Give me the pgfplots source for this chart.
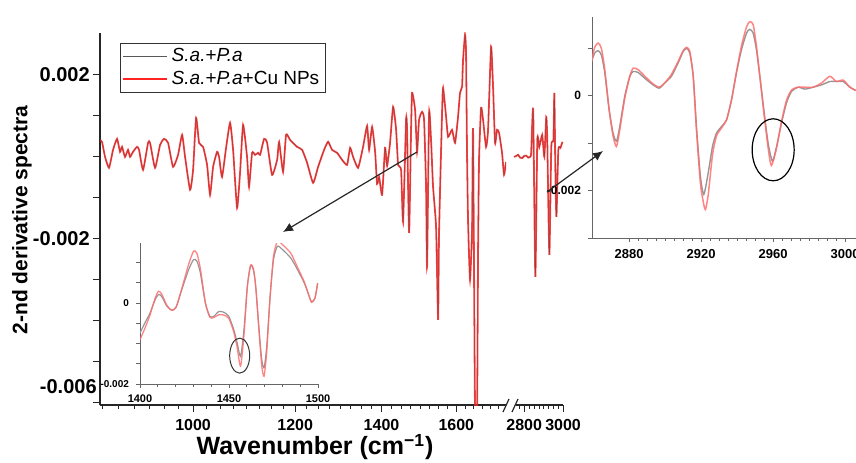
\documentclass[border=0pt]{standalone}
\usepackage{pgfplots}
\pgfplotsset{compat=1.18}
\usepackage{pgfplotstable}
\usepackage{fontspec}
\setmainfont{Liberation Sans}
\usetikzlibrary{arrows.meta}

\definecolor{specred}{RGB}{255,35,35}
\definecolor{specblack}{RGB}{50,50,50}
\definecolor{insetred}{RGB}{255,110,110}
\definecolor{insetgray}{RGB}{150,150,150}

\pgfplotstableread{
x y
847.0 0.40e-3
850.0 0.366e-3
854.6 0.0
860.7 -0.268e-3
866.9 0.171e-3
873.1 0.439e-3
877.8 0.122e-3
880.9 0.244e-3
885.6 0.0
890.4 0.171e-3
893.6 0.0
898.4 0.122e-3
904.8 0.244e-3
908.1 0.171e-3
914.6 -0.317e-3
922.8 0.341e-3
926.1 0.341e-3
934.4 -0.268e-3
942.8 0.293e-3
949.5 0.439e-3
956.4 0.341e-3
964.9 -0.244e-3
973.6 0.049e-3
980.6 0.537e-3
985.8 0.0
994.7 -0.805e-3
1000.0 -0.317e-3
1005.4 0.951e-3
1010.8 0.341e-3
1018.0 0.244e-3
1025.3 -0.195e-3
1030.8 -0.927e-3
1036.4 -0.244e-3
1043.8 0.122e-3
1047.5 0.0
1053.1 -0.488e-3
1060.7 0.220e-3
1068.3 0.829e-3
1074.1 0.171e-3
1081.7 -1.244e-3
1087.5 -0.390e-3
1093.4 0.780e-3
1101.2 0.0
1105.1 -0.732e-3
1111.1 0.098e-3
1117.1 0.049e-3
1123.1 0.098e-3
1127.1 0.049e-3
1135.2 0.439e-3
1141.3 0.341e-3
1151.5 -0.439e-3
1161.9 -0.073e-3
1166.0 0.366e-3
1174.3 -0.366e-3
1180.6 0.537e-3
1189.1 0.415e-3
1204.1 0.244e-3
1214.9 0.171e-3
1225.8 -0.146e-3
1239.0 -0.634e-3
1250.1 -0.244e-3
1263.5 0.171e-3
1272.6 0.366e-3
1281.7 0.171e-3
1293.2 0.098e-3
1304.8 -0.073e-3
1316.5 -0.195e-3
1323.6 0.220e-3
1330.7 0.0
1342.6 -0.268e-3
1354.6 0.244e-3
1364.4 0.756e-3
1369.3 0.171e-3
1376.6 0.732e-3
1384.0 0.122e-3
1388.9 -0.659e-3
1393.9 -0.488e-3
1401.4 -0.927e-3
1408.9 0.220e-3
1414.0 -0.220e-3
1421.5 0.341e-3
1429.2 1.220e-3
1436.8 0.683e-3
1442.0 -0.195e-3
1449.7 -0.317e-3
1454.9 -1.585e-3
1462.7 0.902e-3
1465.3 0.659e-3
1470.6 -1.854e-3
1475.8 0.659e-3
1478.5 1.561e-3
1486.4 1.146e-3
1491.7 0.122e-3
1497.0 0.902e-3
1505.1 1.098e-3
1510.5 0.902e-3
1515.9 -0.732e-3
1518.6 -2.683e-3
1524.0 1.073e-3
1529.4 0.415e-3
1534.9 -0.732e-3
1543.2 -1.707e-3
1548.7 -3.976e-3
1551.4 -1.854e-3
1559.8 1.073e-3
1562.6 1.683e-3
1571.0 0.976e-3
1576.6 0.488e-3
1587.8 0.659e-3
1596.4 0.341e-3
1605.0 0.976e-3
1610.7 1.561e-3
1616.5 1.707e-3
1619.3 2.366e-3
1625.1 2.976e-3
1628.0 2.537e-3
1630.9 0.098e-3
1633.8 -1.537e-3
1639.7 -3.000e-3
1645.6 -1.707e-3
1648.5 0.659e-3
1654.4 -6.3e-3
1660.3 -6.3e-3
1663.3 -2.341e-3
1666.2 -0.073e-3
1672.2 1.195e-3
1678.2 0.902e-3
1687.2 0.244e-3
1693.2 0.659e-3
1702.4 2.683e-3
1708.4 1.707e-3
1714.5 0.341e-3
1720.7 0.659e-3
1726.8 0.585e-3
1736.1 0.098e-3
1742.3 -0.439e-3
1748.5 -0.122e-3
}\mainA

\pgfplotstableread{
x y
2750 0.0
2760 0.02e-3
2770 0.05e-3
2780 -0.02e-3
2790 -0.03e-3
2800 0.02e-3
2810 0.03e-3
2820 -0.02e-3
2830 0.0
2835 0.10e-3
2845 1.146e-3
2856 -2.927e-3
2866 0.415e-3
2876 0.244e-3
2891 0.537e-3
2902 0.0
2912 0.976e-3
2917 0.415e-3
2928 -2.390e-3
2938 0.244e-3
2949 0.415e-3
2954 1.561e-3
2959 -0.244e-3
2965 -1.463e-3
2975 0.171e-3
2986 0.220e-3
2997 0.366e-3
}\mainB

\pgfplotstableread{
x y
2859.1 0.72e-3
2860.9 0.90e-3
2862.8 0.95e-3
2864.6 0.86e-3
2866.5 0.48e-3
2868.9 -0.29e-3
2871.1 -0.79e-3
2873.0 -0.96e-3
2874.8 -0.65e-3
2877.6 -0.01e-3
2880.4 0.41e-3
2882.2 0.51e-3
2885.0 0.49e-3
2889.6 0.34e-3
2893.3 0.23e-3
2896.7 0.16e-3
2899.8 0.27e-3
2903.5 0.41e-3
2907.2 0.69e-3
2910.0 0.93e-3
2911.9 1.00e-3
2913.7 0.90e-3
2915.6 0.41e-3
2917.4 -0.65e-3
2919.6 -1.70e-3
2921.5 -2.08e-3
2923.9 -1.63e-3
2926.3 -1.07e-3
2928.5 -0.79e-3
2931.3 -0.65e-3
2934.1 -0.51e-3
2936.9 -0.08e-3
2939.6 0.48e-3
2942.4 0.97e-3
2945.2 1.32e-3
2947.0 1.40e-3
2948.9 1.32e-3
2950.7 0.97e-3
2952.6 0.41e-3
2954.8 -0.29e-3
2957.2 -1.00e-3
2959.6 -1.38e-3
2961.9 -1.07e-3
2964.6 -0.58e-3
2967.4 -0.15e-3
2970.2 0.09e-3
2973.9 0.18e-3
2977.6 0.14e-3
2982.2 0.18e-3
2986.9 0.23e-3
2991.5 0.30e-3
2995.2 0.30e-3
2998.9 0.30e-3
3002.6 0.18e-3
3005.9 0.11e-3
}\insetRgray

\pgfplotstableread{
x y
2859.1 0.72e-3
2860.9 1.02e-3
2862.8 1.11e-3
2864.6 1.00e-3
2866.5 0.55e-3
2868.9 -0.29e-3
2871.1 -0.85e-3
2873.0 -1.07e-3
2874.8 -0.72e-3
2877.6 -0.05e-3
2880.4 0.41e-3
2882.2 0.58e-3
2885.0 0.55e-3
2889.6 0.38e-3
2893.3 0.25e-3
2896.7 0.18e-3
2899.8 0.27e-3
2903.5 0.45e-3
2907.2 0.72e-3
2910.0 0.95e-3
2911.9 1.02e-3
2913.7 0.93e-3
2915.6 0.41e-3
2917.4 -0.72e-3
2919.6 -1.85e-3
2921.5 -2.30e-3
2922.4 -2.40e-3
2923.9 -2.10e-3
2926.3 -1.25e-3
2928.5 -0.85e-3
2931.3 -0.68e-3
2934.1 -0.51e-3
2936.9 -0.08e-3
2939.6 0.50e-3
2942.4 1.05e-3
2945.2 1.45e-3
2947.0 1.56e-3
2948.9 1.50e-3
2950.7 1.05e-3
2952.6 0.41e-3
2954.8 -0.35e-3
2957.2 -1.10e-3
2959.0 -1.47e-3
2961.9 -1.10e-3
2964.6 -0.55e-3
2967.4 -0.10e-3
2970.2 0.12e-3
2973.9 0.18e-3
2977.6 0.18e-3
2982.2 0.18e-3
2986.9 0.27e-3
2991.5 0.41e-3
2995.2 0.30e-3
2998.9 0.33e-3
3002.6 0.18e-3
3005.9 0.11e-3
}\insetRred

\pgfplotstableread{
x y
1400.0 -0.74e-3
1402.8 -0.49e-3
1405.6 -0.25e-3
1408.5 0.08e-3
1410.4 0.21e-3
1412.2 0.16e-3
1415.1 -0.08e-3
1417.9 -0.18e-3
1420.3 -0.10e-3
1423.5 0.33e-3
1427.3 0.82e-3
1430.1 1.07e-3
1432.0 1.03e-3
1433.9 0.74e-3
1436.7 0.00
1439.2 -0.33e-3
1441.4 -0.33e-3
1444.3 -0.21e-3
1447.1 -0.23e-3
1449.9 -0.33e-3
1452.7 -0.66e-3
1454.6 -0.99e-3
1456.5 -1.32e-3
1458.4 -0.66e-3
1460.3 0.41e-3
1462.1 0.91e-3
1463.7 0.82e-3
1465.0 0.41e-3
1466.9 -0.66e-3
1468.4 -1.40e-3
1469.7 -1.60e-3
1471.2 -1.07e-3
1473.1 0.16e-3
1475.0 1.07e-3
1477.2 1.40e-3
1480.0 1.32e-3
1484.7 1.11e-3
1488.5 0.82e-3
1492.3 0.49e-3
1495.1 0.16e-3
1496.4 0.02e-3
1498.3 0.12e-3
1499.8 0.49e-3
}\insetLgray

\pgfplotstableread{
x y
1400.0 -0.91e-3
1402.8 -0.62e-3
1405.6 -0.30e-3
1408.5 0.12e-3
1410.4 0.29e-3
1412.2 0.22e-3
1415.1 -0.06e-3
1417.9 -0.18e-3
1420.3 -0.10e-3
1423.5 0.36e-3
1427.3 0.95e-3
1430.1 1.28e-3
1432.0 1.22e-3
1433.9 0.85e-3
1436.7 0.02e-3
1439.2 -0.35e-3
1441.4 -0.36e-3
1444.3 -0.29e-3
1447.1 -0.30e-3
1449.9 -0.38e-3
1452.7 -0.72e-3
1454.6 -1.10e-3
1456.5 -1.56e-3
1458.4 -0.80e-3
1460.3 0.40e-3
1462.1 0.93e-3
1463.7 0.85e-3
1465.0 0.41e-3
1466.9 -0.72e-3
1468.4 -1.55e-3
1469.7 -1.81e-3
1471.2 -1.20e-3
1473.1 0.16e-3
1475.0 1.15e-3
1477.2 1.52e-3
1480.0 1.44e-3
1484.7 1.23e-3
1488.5 0.88e-3
1492.3 0.52e-3
1495.1 0.16e-3
1496.4 0.02e-3
1498.3 0.12e-3
1499.8 0.49e-3
}\insetLred

\pgfplotsset{
  spec/.style={
    scale only axis, anchor=south west,
    scaled x ticks=false, scaled y ticks=false,
    axis x line=bottom, axis y line=left,
    axis line style={-, black!85, line width=0.6pt},
    tick align=outside,
    tick style={black!85, line width=0.5pt},
  },
}

\begin{document}
\begin{tikzpicture}
\useasboundingbox (0,0) rectangle (428pt,231pt);

% main axis, left part
\begin{axis}[spec,
  at={(50pt,28.5pt)}, width=203pt, height=186pt,
  xmode=log, xmin=847, xmax=1748.5,
  ymin=-0.00605, ymax=0.00302,
  xtick={1000,1200,1400,1600}, xticklabels={1000,1200,1400,1600},
  minor xtick={850,875,900,925,950,975,1025,1050,1075,1100,1125,1150,1175,1225,1250,1275,1300,1325,1350,1375,1425,1450,1475,1500,1525,1550,1575,1625,1650,1675,1700,1725},
  ytick={-0.006,-0.005,-0.004,-0.003,-0.002,-0.001,0,0.001,0.002},
  yticklabels={{},{},{},{},{\mbox{-0.002}},{},{},{},{0.002}},
  extra y ticks={-0.0056}, extra y tick labels={{\mbox{-0.006}}},
  extra y tick style={major tick length=0pt},
  major tick length=3.5pt, minor tick length=2pt,
  x tick label style={font=\bfseries\fontsize{8}{9}\selectfont},
  y tick label style={font=\bfseries\fontsize{10}{12}\selectfont, inner xsep=1.5pt},
  legend style={draw=black!80, line width=0.6pt, at={(0.049,0.973)}, anchor=north west,
    font=\fontsize{9.5}{11}\selectfont, inner xsep=1pt, inner ysep=0.5pt, row sep=-1pt},
  legend cell align=left,
  legend image code/.code={\draw[#1] (0pt,0pt) -- (22pt,0pt);},
]
\addplot[specred, line width=0.9pt, opacity=0.85, smooth, tension=0.3, forget plot] table {\mainA};
\addplot[specblack, line width=0.25pt, opacity=0.5, smooth, tension=0.3, forget plot] table {\mainA};
\addlegendimage{black!65, line width=0.6pt}
\addlegendentry{\textit{S.a.}+\textit{P.a}}
\addlegendimage{specred, line width=0.6pt}
\addlegendentry{\textit{S.a.}+\textit{P.a}+Cu NPs}
\end{axis}

% main axis, right part after the break
\begin{axis}[spec,
  at={(258pt,28.5pt)}, width=23.5pt, height=186pt,
  axis y line=none, ytick=\empty, clip=false,
  xmode=log, xmin=2760, xmax=3000,
  ymin=-0.00605, ymax=0.00302,
  xtick={2800,3000}, xticklabels={2800,3000},
  minor xtick={2775,2825,2850,2875,2900,2925,2950,2975},
  major tick length=3.5pt, minor tick length=2pt,
  x tick label style={font=\bfseries\fontsize{8}{9}\selectfont, inner xsep=0pt},
]
\addplot[specred, line width=0.9pt, opacity=0.85, smooth, tension=0.3] table {\mainB};
\addplot[specblack, line width=0.25pt, opacity=0.5, smooth, tension=0.3] table {\mainB};
\end{axis}

% axis break marks
\draw[black!85, line width=0.6pt] (251.5pt,25pt) -- (254.5pt,31.5pt);
\draw[black!85, line width=0.6pt] (256pt,25pt) -- (259pt,31.5pt);

% right inset
\begin{axis}[spec,
  at={(296pt,112pt)}, width=132pt, height=110.5pt,
  axis line style={-, black!60, line width=0.5pt},
  tick style={black!60, line width=0.4pt},
  major tick length=2pt, minor tick length=1.5pt,
  xmin=2859.4, xmax=3006, ymin=-0.003, ymax=0.00166,
  xtick={2880,2920,2960,3000}, xticklabels={2880,2920,2960,3000},
  minor x tick num=7,
  ytick={-0.003,-0.002,-0.001,0,0.001}, yticklabels={{},{\mbox{-0.002}},{},{0},{}},
  x tick label style={font=\bfseries\fontsize{6.5}{7}\selectfont},
  y tick label style={font=\bfseries\fontsize{6}{7}\selectfont},
]
\addplot[insetgray, line width=0.7pt, smooth, tension=0.4] table {\insetRgray};
\addplot[insetred, line width=0.75pt, opacity=0.85, smooth, tension=0.4] table {\insetRred};
\draw[black, line width=0.6pt] (axis cs:2960,-0.00114) ellipse [x radius=10.5pt, y radius=15.5pt];
\end{axis}

% left inset
\begin{axis}[spec,
  at={(70pt,39pt)}, width=89pt, height=70.5pt,
  axis line style={-, black!60, line width=0.5pt},
  tick style={black!60, line width=0.4pt},
  major tick length=2pt, minor tick length=1.5pt,
  xmin=1400, xmax=1500, ymin=-0.002, ymax=0.00148,
  xtick={1400,1450,1500}, xticklabels={1400,1450,1500},
  minor x tick num=4,
  ytick={-0.002,-0.0015,-0.001,-0.0005,0,0.0005,0.001},
  yticklabels={{\mbox{-0.002}},{},{},{},{0},{},{}},
  x tick label style={font=\bfseries\fontsize{5.5}{6}\selectfont},
  y tick label style={font=\bfseries\fontsize{5}{6}\selectfont},
]
\addplot[insetgray, line width=0.6pt, smooth, tension=0.4] table {\insetLgray};
\addplot[insetred, line width=0.65pt, opacity=0.85, smooth, tension=0.4] table {\insetLred};
\draw[black!80, line width=0.5pt] (axis cs:1456,-0.0013) ellipse [x radius=5pt, y radius=8.75pt];
\end{axis}

% arrows
\draw[black!85, line width=0.6pt, -{Latex[length=5pt,width=4.5pt]}] (208.5pt,155pt) -- (141.5pt,115pt);
\draw[black!85, line width=0.6pt, -{Latex[length=5pt,width=4.5pt]}] (273.5pt,135pt) -- (301.5pt,155.5pt);

% axis titles
\node[font=\bfseries\fontsize{12.5}{14}\selectfont] at (157.5pt,7.5pt) {Wavenumber (cm\textsuperscript{−1})};
\node[font=\bfseries\fontsize{10.5}{12}\selectfont, rotate=90] at (11pt,121pt) {2-nd derivative spectra};
\end{tikzpicture}
\end{document}
